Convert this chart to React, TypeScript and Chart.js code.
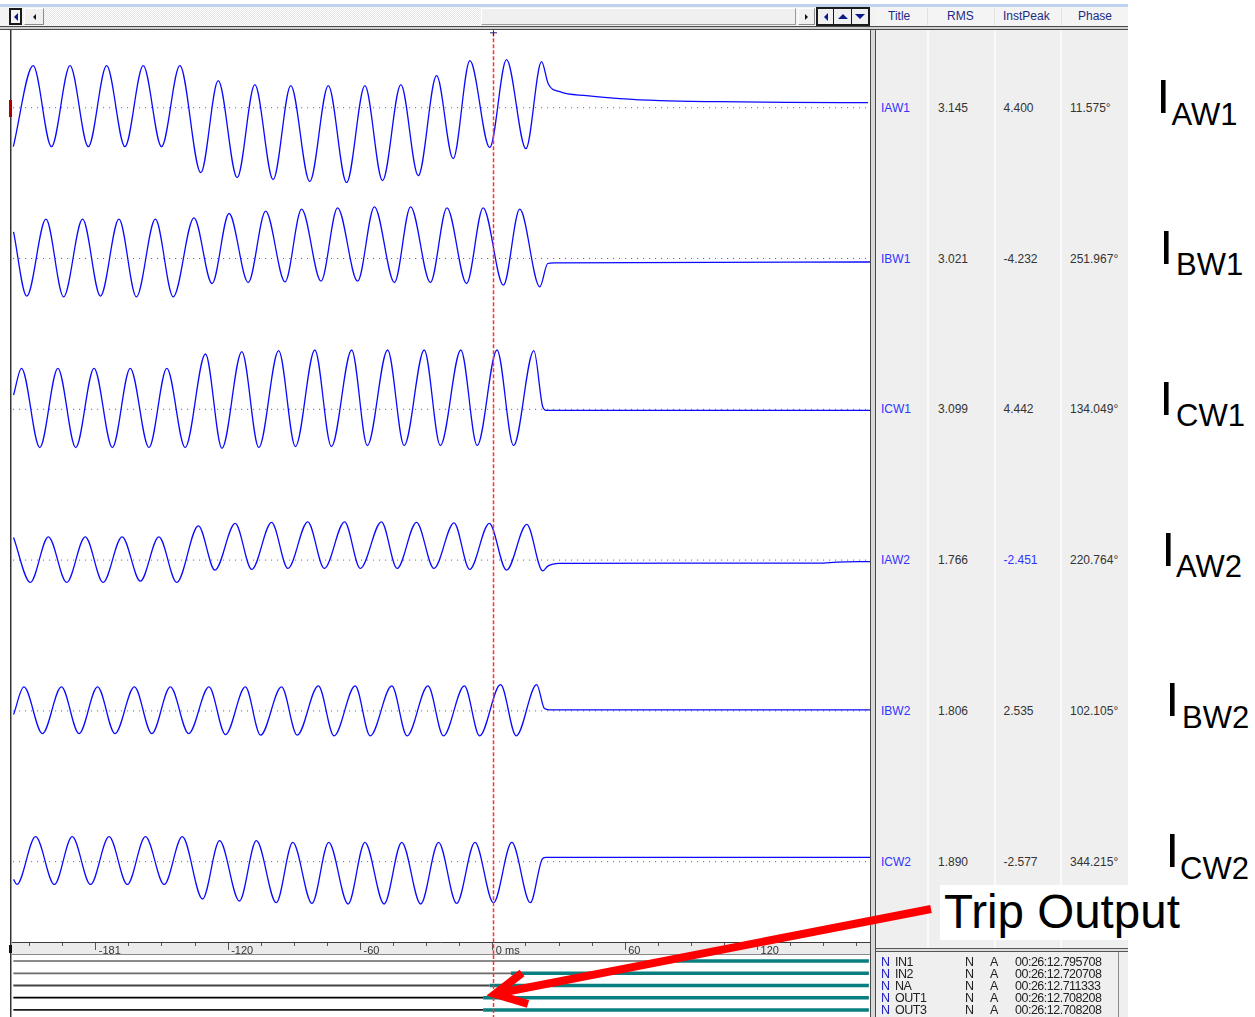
import React, { useEffect, useRef } from 'react';
import { Chart, registerables } from 'chart.js';

Chart.register(...registerables);

// ---------------- data ----------------
const timeMin = -218;
const timeMax = 171;
const cursorTime = 0;

const majorTickValues = [-180, -120, -60, 0, 60, 120];
const majorTickLabels = ['-181', '-120', '-60', '0 ms', '60', '120'];
const minorTickStep = 15;

const channelTitles = ['IAW1', 'IBW1', 'ICW1', 'IAW2', 'IBW2', 'ICW2'];
const rmsValues = ['3.145', '3.021', '3.099', '1.766', '1.806', '1.890'];
const instPeakValues = ['4.400', '-4.232', '4.442', '-2.451', '2.535', '-2.577'];
const phaseValues = ['11.575°', '251.967°', '134.049°', '220.764°', '102.105°', '344.215°'];
const labelSubscripts = ['AW1', 'BW1', 'CW1', 'AW2', 'BW2', 'CW2'];

// waveform turning points (ms, A)
const iaw1Times = [-217.4, -208.4, -200.1, -191.7, -183.4, -175.1, -166.8, -158.5, -150.2, -141.9, -132.4, -124.5, -115.9, -107.9, -99.6, -91.6, -83.0, -74.6, -66.3, -58.0, -50.0, -41.7, -33.8, -25.5, -18.0, -10.4, -1.4, 6.2, 15.0, 22.1, 25.1, 30.4, 42.5, 57.6, 75.7, 102.9, 133.1, 170.1];
const iaw1Values = [-3.9, 4.2, -3.9, 4.2, -3.9, 4.2, -3.9, 4.2, -3.9, 4.2, -6.5, 2.7, -7.0, 2.3, -7.2, 2.2, -7.4, 2.2, -7.5, 2.2, -7.3, 2.3, -6.8, 3.2, -5.1, 4.7, -4.0, 4.8, -4.1, 4.6, 2.4, 1.6, 1.2, 0.9, 0.7, 0.6, 0.54, 0.5];

const ibw1Times = [-217.3, -211.3, -202.6, -194.6, -186.0, -177.9, -169.5, -161.6, -153.0, -144.9, -135.5, -127.3, -119.6, -110.9, -103.0, -94.2, -86.7, -77.9, -70.4, -61.3, -53.7, -44.6, -37.3, -28.3, -20.8, -11.9, -4.4, 4.8, 12.2, 21.3, 24.9, 28.0, 171];
const ibw1Values = [2.67, -3.77, 3.93, -3.83, 3.93, -3.77, 3.93, -3.83, 3.93, -3.83, 4.07, -2.5, 4.5, -2.4, 4.73, -2.33, 4.93, -2.27, 5.07, -2.27, 5.17, -2.4, 5.17, -2.4, 5.07, -2.5, 5.07, -2.67, 4.93, -2.83, -0.5, -0.43, -0.35];

const icw1Times = [-217.3, -213.7, -205.4, -197.2, -189.1, -180.8, -172.5, -164.4, -155.9, -147.8, -139.5, -130.3, -122.8, -113.8, -106.1, -97.1, -89.5, -80.7, -73.2, -64.0, -56.9, -47.7, -40.2, -31.1, -23.8, -14.5, -7.1, 1.9, 9.4, 18.6, 22.6, 24.2, 171];
const icw1Values = [1.43, 4.1, -3.83, 4.1, -3.83, 4.1, -3.83, 4.1, -3.83, 4.1, -3.83, 5.53, -3.9, 5.77, -3.83, 5.87, -3.73, 5.93, -3.73, 5.93, -3.63, 5.93, -3.63, 5.93, -3.63, 5.93, -3.63, 5.93, -3.63, 5.87, 0.27, -0.1, -0.1];

const iaw2Times = [-217.3, -209.7, -201.5, -193.2, -184.8, -176.7, -168.1, -159.8, -151.4, -143.3, -133.5, -126.0, -116.8, -109.3, -100.3, -92.9, -83.9, -76.4, -67.2, -60.1, -50.5, -43.4, -34.6, -26.7, -17.6, -10.5, -1.6, 6.2, 15.4, 22.6, 24.9, 27.3, 30.0, 90.0, 148.0, 156.0, 171.0];
const iaw2Values = [2.27, -2.23, 2.33, -2.23, 2.33, -2.23, 2.33, -2.1, 2.33, -2.23, 3.43, -1.0, 3.67, -0.93, 3.77, -0.83, 3.83, -0.83, 3.83, -0.83, 3.83, -0.83, 3.77, -0.83, 3.73, -0.93, 3.67, -1.0, 3.57, -1.07, -0.6, -0.4, -0.33, -0.3, -0.3, -0.2, -0.15];

const ibw2Times = [-217.3, -212.6, -204.2, -195.6, -187.6, -179.2, -171.3, -162.5, -154.6, -146.2, -137.9, -128.7, -121.2, -112.2, -105.3, -95.8, -88.7, -79.1, -72.0, -62.4, -55.6, -45.8, -38.9, -29.4, -22.4, -12.9, -6.0, 3.5, 10.6, 19.9, 23.4, 25.7, 171];
const ibw2Values = [-0.37, 2.4, -2.27, 2.4, -2.27, 2.4, -2.27, 2.4, -2.27, 2.4, -2.27, 2.4, -2.37, 2.4, -2.43, 2.4, -2.43, 2.5, -2.5, 2.5, -2.5, 2.5, -2.5, 2.5, -2.5, 2.5, -2.5, 2.63, -2.5, 2.63, 0.23, 0.1, 0.1];

const icw2Times = [-217.3, -215.8, -207.3, -198.8, -190.7, -182.4, -174.0, -165.7, -157.5, -149.0, -140.8, -131.6, -123.9, -114.9, -107.2, -98.2, -90.7, -82.0, -74.4, -65.6, -58.0, -49.3, -41.3, -32.7, -24.6, -16.4, -8.1, 0.3, 8.6, 17.0, 22.6, 24.2, 171];
const icw2Values = [-1.77, -2.27, 2.5, -2.27, 2.5, -2.27, 2.5, -2.27, 2.5, -2.27, 2.5, -3.73, 2.1, -3.93, 2.1, -4.1, 1.93, -4.17, 1.93, -4.23, 1.93, -4.23, 1.93, -4.23, 1.93, -4.17, 1.93, -4.1, 1.93, -4.1, 0.33, 0.43, 0.43];

const digitalNames = ['IN1', 'IN2', 'NA', 'OUT1', 'OUT3'];
const digitalAssertTimes = [83.1, 8.2, -1.4, -4.4, -4.4];
const digitalStateA = ['N', 'N', 'N', 'N', 'N'];
const digitalStateB = ['A', 'A', 'A', 'A', 'A'];
const digitalStamps = ['00:26:12.795708', '00:26:12.720708', '00:26:12.711333', '00:26:12.708208', '00:26:12.708208'];

// ---------------- styles / layout ----------------
const FONT = '"Liberation Sans", Arial, sans-serif';
const WAVE_COLOR = '#0a0aff';
const seriesTimes = [iaw1Times, ibw1Times, icw1Times, iaw2Times, ibw2Times, icw2Times];
const seriesValues = [iaw1Values, ibw1Values, icw1Values, iaw2Values, ibw2Values, icw2Values];
const panelMin = [-7.54, -7.54, -7.54, -7.54, -7.54, -8.03];
const panelMax = [7.54, 7.54, 7.54, 7.54, 7.54, 7.54];
const panelWeight = [1, 1, 1, 1, 1, 1.0325];
const rowCenters = [107.7, 258.5, 409.3, 560.1, 710.9, 861.7];
const labelStemX = [1161, 1164, 1164, 1166, 1170, 1170];
const subLeft = [1171.5, 1176, 1176, 1176, 1182, 1180];
const digitalRowCenters = [962, 974, 986, 998, 1010];
const digitalOffColors = ['#8a8a8a', '#6a6a6a', '#444444', '#000000', '#1a1a1a'];
const digitalOffWidths = [2, 1.8, 1.8, 1.8, 1.8];

const ANALOG_TOP = 28;
const ANALOG_H = 944;
const TICK_LEN = 8;
const TICK_PAD = 0.5;
const TICK_LINE_H = 13.2;
const AXIS_H = TICK_LEN + TICK_LINE_H + 2 * TICK_PAD; // x-axis box height as laid out by Chart.js
const ANALOG_BOTTOM_PAD = ANALOG_H - (942 - ANALOG_TOP) - AXIS_H;
const DIGITAL_TOP = 955;
const DIGITAL_H = 62;
const CANVAS_W = 880;

const axisBandPlugin = {
  id: 'axisBand',
  beforeDraw(chart: any, _args: any, opts: any) {
    if (!opts || !opts.enabled) return;
    const xs = chart.scales.x;
    const { ctx, chartArea } = chart;
    ctx.save();
    ctx.fillStyle = opts.fill;
    ctx.fillRect(chartArea.left - 2, xs.top, chartArea.right - chartArea.left + 2, opts.height);
    ctx.fillStyle = opts.edge;
    ctx.fillRect(chartArea.left - 2, xs.top + opts.height - 1, chartArea.right - chartArea.left + 2, 1);
    ctx.restore();
  },
};

const cursorPlugin = {
  id: 'cursorLine',
  afterDatasetsDraw(chart: any, _args: any, opts: any) {
    if (!opts || opts.value === undefined) return;
    const xs = chart.scales.x;
    const { ctx } = chart;
    const px = Math.round(xs.getPixelForValue(opts.value)) + 0.5;
    const top = opts.fromChartTop ? chart.chartArea.top : 0;
    const bottom = opts.bottom !== undefined ? opts.bottom : chart.height;
    ctx.save();
    ctx.strokeStyle = opts.color;
    ctx.lineWidth = 1.5;
    ctx.setLineDash([4, 2]);
    ctx.beginPath();
    ctx.moveTo(px, top);
    ctx.lineTo(px, bottom);
    ctx.stroke();
    if (opts.marker) {
      ctx.setLineDash([]);
      ctx.lineWidth = 1;
      ctx.strokeStyle = opts.markerColor;
      ctx.beginPath();
      ctx.moveTo(px - 3.5, top + 0.5);
      ctx.lineTo(px + 3.5, top + 0.5);
      ctx.moveTo(px, top - 2);
      ctx.lineTo(px, top + 4);
      ctx.stroke();
    }
    ctx.restore();
  },
};

function tickList(): number[] {
  const list: number[] = [];
  for (let v = Math.ceil(timeMin / minorTickStep) * minorTickStep; v <= timeMax; v += minorTickStep) list.push(v);
  return list;
}

function AnalogChart() {
  const ref = useRef<HTMLCanvasElement | null>(null);
  useEffect(() => {
    if (!ref.current) return;
    const scales: Record<string, any> = {
      x: {
        type: 'linear',
        position: 'bottom',
        min: timeMin,
        max: timeMax,
        bounds: 'data',
        afterBuildTicks: (scale: any) => {
          scale.ticks = tickList().map((v) => ({ value: v }));
        },
        ticks: {
          autoSkip: false,
          maxRotation: 0,
          minRotation: 0,
          align: 'start',
          crossAlign: 'center',
          padding: TICK_PAD,
          labelOffset: 3,
          color: '#333333',
          font: { family: FONT, size: 11, lineHeight: 1.2 },
          callback: (v: number) => {
            const i = majorTickValues.indexOf(v);
            return i >= 0 ? majorTickLabels[i] : '';
          },
        },
        grid: {
          display: true,
          drawOnChartArea: false,
          drawTicks: true,
          tickLength: TICK_LEN,
          tickColor: '#555555',
          tickWidth: 1,
          tickBorderDash: (c: any) => (c.tick && majorTickValues.includes(c.tick.value) ? [] : [3, 30]),
        },
        border: { display: true, color: '#3a3a3a', width: 1 },
      },
    };
    for (let i = channelTitles.length - 1; i >= 0; i--) {
      scales['y' + i] = {
        type: 'linear',
        display: false,
        position: 'left',
        stack: 'analog',
        stackWeight: panelWeight[i],
        weight: channelTitles.length - i,
        min: panelMin[i],
        max: panelMax[i],
      };
    }
    const datasets: any[] = [];
    seriesTimes.forEach((times, i) => {
      datasets.push({
        label: channelTitles[i],
        data: times.map((t, j) => ({ x: t, y: seriesValues[i][j] })),
        yAxisID: 'y' + i,
        borderColor: WAVE_COLOR,
        borderWidth: 1.3,
        pointRadius: 0,
        cubicInterpolationMode: 'monotone',
        fill: false,
        order: 0,
      });
      datasets.push({
        label: channelTitles[i] + ' zero',
        data: [
          { x: timeMin + 0.5, y: 0 },
          { x: timeMax, y: 0 },
        ],
        yAxisID: 'y' + i,
        borderColor: '#4a4aff',
        borderWidth: 1,
        borderDash: [1, 5],
        pointRadius: 0,
        fill: false,
        order: 1,
      });
    });
    const chart = new Chart(ref.current, {
      type: 'line',
      data: { datasets },
      options: {
        responsive: false,
        animation: false,
        devicePixelRatio: 1,
        events: [],
        layout: { padding: { left: 12, right: CANVAS_W - 870, top: 4.3, bottom: ANALOG_BOTTOM_PAD } },
        scales,
        plugins: {
          legend: { display: false },
          tooltip: { enabled: false },
          axisBand: { enabled: true, fill: '#ebebeb', edge: '#8a8a8a', height: 13 },
          cursorLine: { value: cursorTime, color: '#ff3030', fromChartTop: true, marker: true, markerColor: '#1c2a84', bottom: 955 - ANALOG_TOP },
        } as any,
      },
      plugins: [axisBandPlugin, cursorPlugin],
    } as any);
    return () => chart.destroy();
  }, []);
  return (
    <canvas
      ref={ref}
      width={CANVAS_W}
      height={ANALOG_H}
      style={{ position: 'absolute', left: 0, top: ANALOG_TOP, width: CANVAS_W, height: ANALOG_H, display: 'block' }}
    />
  );
}

function DigitalChart() {
  const ref = useRef<HTMLCanvasElement | null>(null);
  useEffect(() => {
    if (!ref.current) return;
    const datasets: any[] = [];
    digitalNames.forEach((name, k) => {
      const level = digitalNames.length - 0.5 - k;
      datasets.push({
        label: name + ' on',
        data: [
          { x: digitalAssertTimes[k], y: level },
          { x: timeMax - 0.5, y: level },
        ],
        borderColor: '#0b7f7f',
        borderWidth: 3.5,
        pointRadius: 0,
        fill: false,
        order: 0,
      });
      datasets.push({
        label: name + ' off',
        data: [
          { x: timeMin + 0.6, y: level },
          { x: digitalAssertTimes[k], y: level },
        ],
        borderColor: digitalOffColors[k],
        borderWidth: digitalOffWidths[k],
        pointRadius: 0,
        fill: false,
        order: 1,
      });
    });
    const chart = new Chart(ref.current, {
      type: 'line',
      data: { datasets },
      options: {
        responsive: false,
        animation: false,
        devicePixelRatio: 1,
        events: [],
        layout: { padding: { left: 12, right: CANVAS_W - 870, top: 0, bottom: 1 } },
        scales: {
          x: { type: 'linear', display: false, min: timeMin, max: timeMax },
          y: { type: 'linear', display: false, min: 0, max: digitalNames.length },
        },
        plugins: {
          legend: { display: false },
          tooltip: { enabled: false },
          cursorLine: { value: cursorTime, color: '#ff3030', fromChartTop: false, marker: false },
        } as any,
      },
      plugins: [cursorPlugin],
    } as any);
    return () => chart.destroy();
  }, []);
  return (
    <canvas
      ref={ref}
      width={CANVAS_W}
      height={DIGITAL_H}
      style={{ position: 'absolute', left: 0, top: DIGITAL_TOP, width: CANVAS_W, height: DIGITAL_H, display: 'block' }}
    />
  );
}

function Tri({ dir, color, size = 4 }: { dir: 'left' | 'right' | 'up' | 'down'; color: string; size?: number }) {
  const t = 'transparent';
  const s: React.CSSProperties = { width: 0, height: 0 };
  if (dir === 'left') Object.assign(s, { borderTop: `${size}px solid ${t}`, borderBottom: `${size}px solid ${t}`, borderRight: `${size}px solid ${color}` });
  if (dir === 'right') Object.assign(s, { borderTop: `${size}px solid ${t}`, borderBottom: `${size}px solid ${t}`, borderLeft: `${size}px solid ${color}` });
  if (dir === 'up') Object.assign(s, { borderLeft: `${size}px solid ${t}`, borderRight: `${size}px solid ${t}`, borderBottom: `${size}px solid ${color}` });
  if (dir === 'down') Object.assign(s, { borderLeft: `${size}px solid ${t}`, borderRight: `${size}px solid ${t}`, borderTop: `${size}px solid ${color}` });
  return <div style={s} />;
}

const abs = (s: React.CSSProperties): React.CSSProperties => ({ position: 'absolute', boxSizing: 'border-box', ...s });
const btnCenter: React.CSSProperties = { display: 'flex', alignItems: 'center', justifyContent: 'center' };

export default function App() {
  useEffect(() => {
    document.body.style.margin = '0';
    document.body.style.overflow = 'hidden';
  }, []);
  const headerText: React.CSSProperties = { fontFamily: FONT, fontSize: 12, color: '#1c2a84', lineHeight: '19px', whiteSpace: 'nowrap' };
  const cellText: React.CSSProperties = { fontFamily: FONT, fontSize: 12, color: '#333333', lineHeight: '14px', whiteSpace: 'nowrap' };
  const digText: React.CSSProperties = { fontFamily: FONT, fontSize: 12.5, letterSpacing: -0.5, color: '#222222', lineHeight: '12px', whiteSpace: 'nowrap' };
  return (
    <div style={abs({ left: 0, top: 0, width: 1255, height: 1017, background: '#ffffff', overflow: 'hidden', fontFamily: FONT })}>
      {/* toolbar */}
      <div style={abs({ left: 0, top: 4, width: 1128, height: 3, background: '#bcd2ee' })} />
      <div style={abs({ left: 0, top: 7, width: 1128, height: 19, background: '#f3f3f3' })} />
      <div style={abs({ left: 9, top: 8, width: 13, height: 17, border: '2px solid #1a1a1a', background: '#f5f5f5', ...btnCenter })}>
        <Tri dir="left" color="#0a1a8a" size={4} />
      </div>
      <div style={abs({ left: 24, top: 8, width: 20, height: 17, border: '1px solid', borderColor: '#ffffff #8a8a8a #8a8a8a #ffffff', background: '#f0f0f0', ...btnCenter })}>
        <Tri dir="left" color="#111" size={3} />
      </div>
      <div
        style={abs({
          left: 44,
          top: 8,
          width: 437,
          height: 17,
          backgroundImage: 'repeating-conic-gradient(#e4e4e4 0% 25%, #ffffff 0% 50%)',
          backgroundSize: '2px 2px',
        })}
      />
      <div style={abs({ left: 481, top: 8, width: 315, height: 17, border: '1px solid', borderColor: '#ffffff #9a9a9a #9a9a9a #ffffff', background: '#f0f0f0' })} />
      <div style={abs({ left: 798, top: 8, width: 17, height: 17, border: '1px solid', borderColor: '#ffffff #8a8a8a #8a8a8a #ffffff', background: '#f0f0f0', ...btnCenter })}>
        <Tri dir="right" color="#111" size={3} />
      </div>
      <div style={abs({ left: 816, top: 7, width: 54, height: 19, border: '2px solid #1a1a1a', background: '#f0f0f0', display: 'flex' })}>
        <div style={{ width: 16, height: 15, borderRight: '1px solid #1a1a1a', ...btnCenter }}>
          <Tri dir="left" color="#0a1a8a" size={4} />
        </div>
        <div style={{ width: 17, height: 15, borderRight: '1px solid #1a1a1a', ...btnCenter }}>
          <Tri dir="up" color="#0a1a8a" size={5} />
        </div>
        <div style={{ width: 17, height: 15, ...btnCenter }}>
          <Tri dir="down" color="#0a1a8a" size={5} />
        </div>
      </div>
      <div style={abs({ left: 876, top: 7, width: 252, height: 19, background: '#f4f4f4' })} />
      {[927, 994, 1061].map((x) => (
        <div key={'hs' + x} style={abs({ left: x, top: 8, width: 1, height: 17, background: '#e2e2e2' })} />
      ))}
      <div style={abs({ left: 888, top: 7, ...headerText })}>Title</div>
      <div style={abs({ left: 947, top: 7, ...headerText })}>RMS</div>
      <div style={abs({ left: 1003, top: 7, ...headerText })}>InstPeak</div>
      <div style={abs({ left: 1078, top: 7, ...headerText })}>Phase</div>

      {/* right table background */}
      <div style={abs({ left: 876, top: 30, width: 252, height: 918, background: '#efefef' })} />
      {[927, 994, 1060].map((x) => (
        <div key={'cs' + x} style={abs({ left: x, top: 30, width: 2, height: 918, background: '#fafafa' })} />
      ))}
      <div style={abs({ left: 876, top: 952, width: 252, height: 65, background: '#efefef' })} />
      <div style={abs({ left: 1118, top: 952, width: 1, height: 65, background: '#8a8a8a' })} />

      {/* charts (digital below the analog canvas, whose axis labels may overhang) */}
      <DigitalChart />
      <AnalogChart />

      {/* frame lines */}
      <div style={abs({ left: 0, top: 26, width: 1128, height: 4, borderTop: '1px solid #4a4a4a', borderBottom: '1.5px solid #4a4a4a', background: '#cfcfcf' })} />
      <div style={abs({ left: 10, top: 30, width: 1, height: 987, background: '#333333' })} />
      <div style={abs({ left: 11, top: 30, width: 1, height: 987, background: '#9a9a9a' })} />
      <div style={abs({ left: 8.5, top: 100, width: 3, height: 17, background: '#b00000' })} />
      <div style={abs({ left: 9, top: 945, width: 3, height: 8, background: '#111111' })} />
      <div style={abs({ left: 870, top: 30, width: 6, height: 987, borderLeft: '1.5px solid #4a4a4a', borderRight: '1.5px solid #4a4a4a', background: '#d8d8d8' })} />
      <div style={abs({ left: 876, top: 948, width: 252, height: 4, borderTop: '1px solid #555', borderBottom: '1px solid #555', background: '#dddddd' })} />

      {/* analog table rows */}
      {channelTitles.map((t, i) => (
        <React.Fragment key={'row' + t}>
          <div style={abs({ left: 881, top: rowCenters[i] - 7, ...cellText, color: '#3232ff' })}>{t}</div>
          <div style={abs({ left: 938, top: rowCenters[i] - 7, ...cellText })}>{rmsValues[i]}</div>
          <div style={abs({ left: 1003.5, top: rowCenters[i] - 7, ...cellText, color: i === 3 ? '#3232ff' : '#333333' })}>{instPeakValues[i]}</div>
          <div style={abs({ left: 1070, top: rowCenters[i] - 7, ...cellText })}>{phaseValues[i]}</div>
          <div style={abs({ left: labelStemX[i] - 4.5, top: rowCenters[i] + 6 - 41.5, fontFamily: FONT, fontSize: 49, lineHeight: '49px', color: '#000' })}>I</div>
          <div style={abs({ left: subLeft[i], top: rowCenters[i] + 17 - 26.2, fontFamily: FONT, fontSize: 31, lineHeight: '31px', color: '#000', whiteSpace: 'nowrap' })}>
            {labelSubscripts[i]}
          </div>
        </React.Fragment>
      ))}

      {/* digital table rows */}
      {digitalNames.map((n, k) => (
        <React.Fragment key={'dig' + n}>
          <div style={abs({ left: 881, top: digitalRowCenters[k] - 6, ...digText, color: '#2020c0' })}>N</div>
          <div style={abs({ left: 895, top: digitalRowCenters[k] - 6, ...digText })}>{n}</div>
          <div style={abs({ left: 965, top: digitalRowCenters[k] - 6, ...digText })}>{digitalStateA[k]}</div>
          <div style={abs({ left: 990, top: digitalRowCenters[k] - 6, ...digText })}>{digitalStateB[k]}</div>
          <div style={abs({ left: 1015, top: digitalRowCenters[k] - 6, ...digText })}>{digitalStamps[k]}</div>
        </React.Fragment>
      ))}

      {/* annotation */}
      <div style={abs({ left: 940, top: 885, width: 248, height: 55, background: '#ffffff' })} />
      <div style={abs({ left: 944, top: 928 - 40.2, fontFamily: FONT, fontSize: 47.5, lineHeight: '47.5px', color: '#000', whiteSpace: 'nowrap' })}>Trip Output</div>
      <svg width={1255} height={1017} style={{ position: 'absolute', left: 0, top: 0, pointerEvents: 'none' }}>
        <line x1={931} y1={909} x2={500} y2={993} stroke="#ff0000" strokeWidth={8} strokeLinecap="butt" />
        <polyline points="522,973 495,994 528,1004" fill="none" stroke="#ff0000" strokeWidth={8} strokeLinejoin="miter" strokeLinecap="butt" />
      </svg>
    </div>
  );
}
